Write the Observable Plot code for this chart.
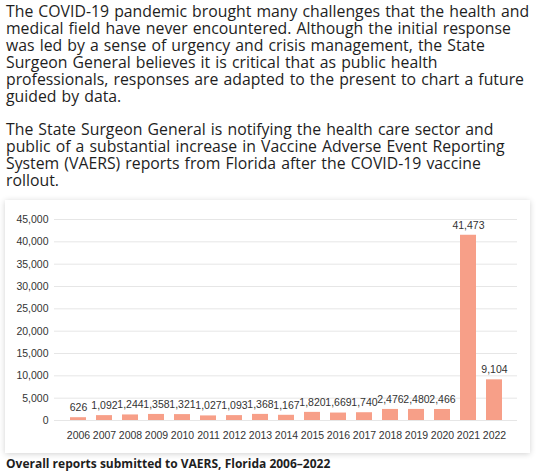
<!DOCTYPE html>
<html>
<head>
<meta charset="utf-8">
<script src="https://cdn.jsdelivr.net/npm/d3@7"></script>
<script src="https://cdn.jsdelivr.net/npm/@observablehq/plot@0.6"></script>
<style>
  html, body { margin: 0; padding: 0; background: #fff; }
  body { width: 554px; height: 474px; overflow: hidden; position: relative; font-family: "Open Sans", sans-serif; color: #1e1e1e; }
  .para { position: absolute; left: 6px; font-size: 15.8px; line-height: 17px; word-spacing: 1px; margin: 0; }
  .para span { display: block; white-space: nowrap; }
  #card { position: absolute; left: 5px; top: 200px; width: 525px; height: 253px; background: #fff; box-shadow: 0 1px 6px rgba(0,0,0,0.18); }
  #caption { position: absolute; left: 6px; top: 455px; font-size: 12px; font-weight: 700; color: #1e1e1e; white-space: nowrap; }
  svg text { font-family: "Liberation Sans", Arial, sans-serif; }
</style>
</head>
<body>
<p class="para" style="top:3px">
<span>The COVID-19 pandemic brought many challenges that the health and</span>
<span>medical field have never encountered. Although the initial response</span>
<span>was led by a sense of urgency and crisis management, the State</span>
<span>Surgeon General believes it is critical that as public health</span>
<span>professionals, responses are adapted to the present to chart a future</span>
<span>guided by data.</span>
</p>
<p class="para" style="top:121px">
<span>The State Surgeon General is notifying the health care sector and</span>
<span>public of a substantial increase in Vaccine Adverse Event Reporting</span>
<span>System (VAERS) reports from Florida after the COVID-19 vaccine</span>
<span>rollout.</span>
</p>
<div id="card"></div>
<div id="caption">Overall reports submitted to VAERS, Florida 2006–2022</div>
<script>
const years = ["2006","2007","2008","2009","2010","2011","2012","2013","2014","2015","2016","2017","2018","2019","2020","2021","2022"];
const reports = [626, 1092, 1244, 1358, 1321, 1027, 1093, 1368, 1167, 1820, 1669, 1740, 2476, 2480, 2466, 41473, 9104];
const yTicks = [0, 5000, 10000, 15000, 20000, 25000, 30000, 35000, 40000, 45000];

const data = years.map((y, i) => ({year: y, value: reports[i]}));
const fmt = d3.format(",");

const chart = Plot.plot({
  width: 525,
  height: 253,
  marginTop: 19,
  marginBottom: 33,
  marginLeft: 49,
  marginRight: 13,
  style: {fontSize: "10.5px", color: "#333", background: "transparent"},
  x: {domain: years, padding: 0.4, label: null, tickSize: 0, tickPadding: 11},
  y: {domain: [0, 45000], ticks: yTicks, tickFormat: fmt, label: null, tickSize: 0, tickPadding: 6},
  marks: [
    Plot.gridY(yTicks, {stroke: "#e6e6e6", strokeOpacity: 1}),
    Plot.barY(data, {x: "year", y: "value", fill: "#f79f88"}),
    Plot.text(data, {x: "year", y: "value", text: d => fmt(d.value), dy: -10, fill: "#333", fontSize: 10.5})
  ]
});
document.getElementById("card").appendChild(chart);
</script>
</body>
</html>
